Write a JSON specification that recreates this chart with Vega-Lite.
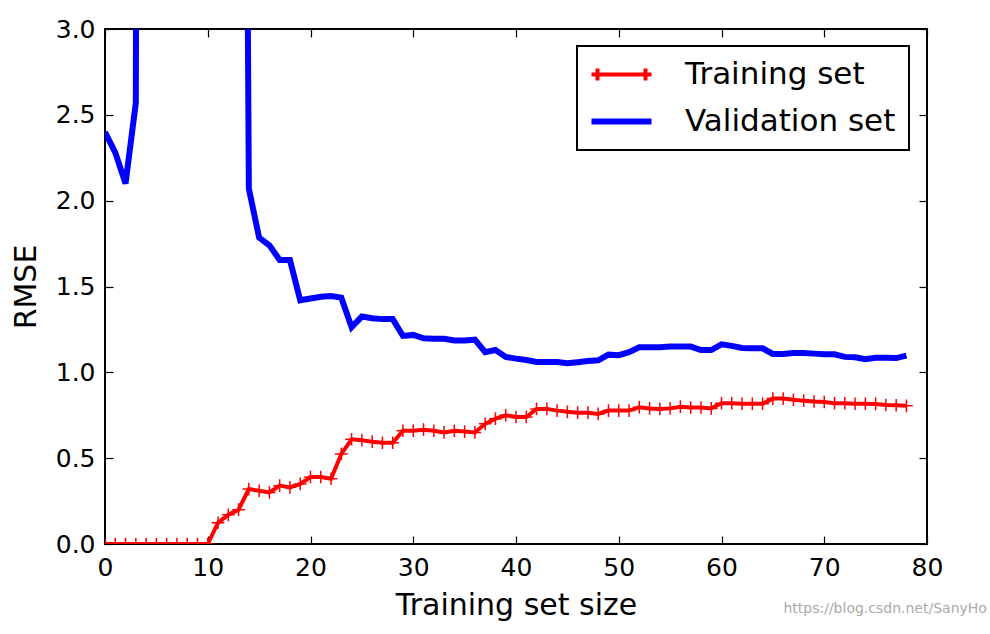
{
  "$schema": "https://vega.github.io/schema/vega-lite/v6.json",
  "autosize": {"type": "none"},
  "width": 822,
  "height": 515,
  "padding": {"left": 105, "top": 29, "right": 63, "bottom": 90},
  "background": "white",
  "title": {"text": "https://blog.csdn.net/SanyHo", "orient": "bottom", "anchor": "end", "fontSize": 14, "fontWeight": "normal", "color": "#aaaaaa", "font": "DejaVu Sans", "dx": 44, "dy": -22},
  "config": {
    "view": {"stroke": "black", "strokeWidth": 2},
    "axis": {"grid": false, "domain": false, "labelFlush": false, "tickSize": -8, "tickColor": "black", "tickWidth": 1.2, "labelFont": "DejaVu Sans", "labelFontSize": 25, "labelColor": "black", "titleFont": "DejaVu Sans", "titleFontSize": 30, "titleFontWeight": "normal", "titleColor": "black"},
    "legend": {"orient": "none", "legendX": 472, "legendY": 17}
  },
  "data": {"values": [
    {"x": 0, "rmse": 0, "series": "Training set"},
    {"x": 1, "rmse": 0, "series": "Training set"},
    {"x": 2, "rmse": 0, "series": "Training set"},
    {"x": 3, "rmse": 0, "series": "Training set"},
    {"x": 4, "rmse": 0, "series": "Training set"},
    {"x": 5, "rmse": 0, "series": "Training set"},
    {"x": 6, "rmse": 0, "series": "Training set"},
    {"x": 7, "rmse": 0, "series": "Training set"},
    {"x": 8, "rmse": 0, "series": "Training set"},
    {"x": 9, "rmse": 0, "series": "Training set"},
    {"x": 10, "rmse": 0, "series": "Training set"},
    {"x": 11, "rmse": 0.124, "series": "Training set"},
    {"x": 12, "rmse": 0.17, "series": "Training set"},
    {"x": 13, "rmse": 0.2, "series": "Training set"},
    {"x": 14, "rmse": 0.32, "series": "Training set"},
    {"x": 15, "rmse": 0.31, "series": "Training set"},
    {"x": 16, "rmse": 0.3, "series": "Training set"},
    {"x": 17, "rmse": 0.34, "series": "Training set"},
    {"x": 18, "rmse": 0.33, "series": "Training set"},
    {"x": 19, "rmse": 0.35, "series": "Training set"},
    {"x": 20, "rmse": 0.39, "series": "Training set"},
    {"x": 21, "rmse": 0.39, "series": "Training set"},
    {"x": 22, "rmse": 0.38, "series": "Training set"},
    {"x": 23, "rmse": 0.525, "series": "Training set"},
    {"x": 24, "rmse": 0.61, "series": "Training set"},
    {"x": 25, "rmse": 0.605, "series": "Training set"},
    {"x": 26, "rmse": 0.596, "series": "Training set"},
    {"x": 27, "rmse": 0.59, "series": "Training set"},
    {"x": 28, "rmse": 0.59, "series": "Training set"},
    {"x": 29, "rmse": 0.66, "series": "Training set"},
    {"x": 30, "rmse": 0.66, "series": "Training set"},
    {"x": 31, "rmse": 0.666, "series": "Training set"},
    {"x": 32, "rmse": 0.66, "series": "Training set"},
    {"x": 33, "rmse": 0.65, "series": "Training set"},
    {"x": 34, "rmse": 0.66, "series": "Training set"},
    {"x": 35, "rmse": 0.655, "series": "Training set"},
    {"x": 36, "rmse": 0.65, "series": "Training set"},
    {"x": 37, "rmse": 0.7, "series": "Training set"},
    {"x": 38, "rmse": 0.73, "series": "Training set"},
    {"x": 39, "rmse": 0.75, "series": "Training set"},
    {"x": 40, "rmse": 0.74, "series": "Training set"},
    {"x": 41, "rmse": 0.74, "series": "Training set"},
    {"x": 42, "rmse": 0.787, "series": "Training set"},
    {"x": 43, "rmse": 0.787, "series": "Training set"},
    {"x": 44, "rmse": 0.777, "series": "Training set"},
    {"x": 45, "rmse": 0.77, "series": "Training set"},
    {"x": 46, "rmse": 0.765, "series": "Training set"},
    {"x": 47, "rmse": 0.765, "series": "Training set"},
    {"x": 48, "rmse": 0.758, "series": "Training set"},
    {"x": 49, "rmse": 0.777, "series": "Training set"},
    {"x": 50, "rmse": 0.777, "series": "Training set"},
    {"x": 51, "rmse": 0.777, "series": "Training set"},
    {"x": 52, "rmse": 0.797, "series": "Training set"},
    {"x": 53, "rmse": 0.79, "series": "Training set"},
    {"x": 54, "rmse": 0.787, "series": "Training set"},
    {"x": 55, "rmse": 0.79, "series": "Training set"},
    {"x": 56, "rmse": 0.8, "series": "Training set"},
    {"x": 57, "rmse": 0.795, "series": "Training set"},
    {"x": 58, "rmse": 0.795, "series": "Training set"},
    {"x": 59, "rmse": 0.79, "series": "Training set"},
    {"x": 60, "rmse": 0.82, "series": "Training set"},
    {"x": 61, "rmse": 0.82, "series": "Training set"},
    {"x": 62, "rmse": 0.817, "series": "Training set"},
    {"x": 63, "rmse": 0.817, "series": "Training set"},
    {"x": 64, "rmse": 0.817, "series": "Training set"},
    {"x": 65, "rmse": 0.847, "series": "Training set"},
    {"x": 66, "rmse": 0.847, "series": "Training set"},
    {"x": 67, "rmse": 0.84, "series": "Training set"},
    {"x": 68, "rmse": 0.835, "series": "Training set"},
    {"x": 69, "rmse": 0.83, "series": "Training set"},
    {"x": 70, "rmse": 0.827, "series": "Training set"},
    {"x": 71, "rmse": 0.82, "series": "Training set"},
    {"x": 72, "rmse": 0.82, "series": "Training set"},
    {"x": 73, "rmse": 0.817, "series": "Training set"},
    {"x": 74, "rmse": 0.817, "series": "Training set"},
    {"x": 75, "rmse": 0.816, "series": "Training set"},
    {"x": 76, "rmse": 0.81, "series": "Training set"},
    {"x": 77, "rmse": 0.808, "series": "Training set"},
    {"x": 78, "rmse": 0.805, "series": "Training set"},
    {"x": 0, "rmse": 2.4, "series": "Validation set"},
    {"x": 1, "rmse": 2.28, "series": "Validation set"},
    {"x": 2, "rmse": 2.1, "series": "Validation set"},
    {"x": 3, "rmse": 2.57, "series": "Validation set"},
    {"x": 4, "rmse": 30, "series": "Validation set"},
    {"x": 5, "rmse": 12, "series": "Validation set"},
    {"x": 6, "rmse": 8, "series": "Validation set"},
    {"x": 7, "rmse": 25, "series": "Validation set"},
    {"x": 8, "rmse": 40, "series": "Validation set"},
    {"x": 9, "rmse": 18, "series": "Validation set"},
    {"x": 10, "rmse": 9, "series": "Validation set"},
    {"x": 11, "rmse": 14, "series": "Validation set"},
    {"x": 12, "rmse": 20, "series": "Validation set"},
    {"x": 13, "rmse": 12, "series": "Validation set"},
    {"x": 14, "rmse": 2.07, "series": "Validation set"},
    {"x": 15, "rmse": 1.785, "series": "Validation set"},
    {"x": 16, "rmse": 1.74, "series": "Validation set"},
    {"x": 17, "rmse": 1.655, "series": "Validation set"},
    {"x": 18, "rmse": 1.655, "series": "Validation set"},
    {"x": 19, "rmse": 1.42, "series": "Validation set"},
    {"x": 20, "rmse": 1.43, "series": "Validation set"},
    {"x": 21, "rmse": 1.44, "series": "Validation set"},
    {"x": 22, "rmse": 1.445, "series": "Validation set"},
    {"x": 23, "rmse": 1.435, "series": "Validation set"},
    {"x": 24, "rmse": 1.263, "series": "Validation set"},
    {"x": 25, "rmse": 1.325, "series": "Validation set"},
    {"x": 26, "rmse": 1.315, "series": "Validation set"},
    {"x": 27, "rmse": 1.31, "series": "Validation set"},
    {"x": 28, "rmse": 1.31, "series": "Validation set"},
    {"x": 29, "rmse": 1.212, "series": "Validation set"},
    {"x": 30, "rmse": 1.218, "series": "Validation set"},
    {"x": 31, "rmse": 1.198, "series": "Validation set"},
    {"x": 32, "rmse": 1.195, "series": "Validation set"},
    {"x": 33, "rmse": 1.195, "series": "Validation set"},
    {"x": 34, "rmse": 1.185, "series": "Validation set"},
    {"x": 35, "rmse": 1.185, "series": "Validation set"},
    {"x": 36, "rmse": 1.19, "series": "Validation set"},
    {"x": 37, "rmse": 1.117, "series": "Validation set"},
    {"x": 38, "rmse": 1.13, "series": "Validation set"},
    {"x": 39, "rmse": 1.09, "series": "Validation set"},
    {"x": 40, "rmse": 1.08, "series": "Validation set"},
    {"x": 41, "rmse": 1.072, "series": "Validation set"},
    {"x": 42, "rmse": 1.06, "series": "Validation set"},
    {"x": 43, "rmse": 1.06, "series": "Validation set"},
    {"x": 44, "rmse": 1.06, "series": "Validation set"},
    {"x": 45, "rmse": 1.053, "series": "Validation set"},
    {"x": 46, "rmse": 1.059, "series": "Validation set"},
    {"x": 47, "rmse": 1.066, "series": "Validation set"},
    {"x": 48, "rmse": 1.07, "series": "Validation set"},
    {"x": 49, "rmse": 1.103, "series": "Validation set"},
    {"x": 50, "rmse": 1.1, "series": "Validation set"},
    {"x": 51, "rmse": 1.117, "series": "Validation set"},
    {"x": 52, "rmse": 1.146, "series": "Validation set"},
    {"x": 53, "rmse": 1.146, "series": "Validation set"},
    {"x": 54, "rmse": 1.146, "series": "Validation set"},
    {"x": 55, "rmse": 1.15, "series": "Validation set"},
    {"x": 56, "rmse": 1.15, "series": "Validation set"},
    {"x": 57, "rmse": 1.15, "series": "Validation set"},
    {"x": 58, "rmse": 1.13, "series": "Validation set"},
    {"x": 59, "rmse": 1.13, "series": "Validation set"},
    {"x": 60, "rmse": 1.163, "series": "Validation set"},
    {"x": 61, "rmse": 1.154, "series": "Validation set"},
    {"x": 62, "rmse": 1.142, "series": "Validation set"},
    {"x": 63, "rmse": 1.14, "series": "Validation set"},
    {"x": 64, "rmse": 1.14, "series": "Validation set"},
    {"x": 65, "rmse": 1.107, "series": "Validation set"},
    {"x": 66, "rmse": 1.107, "series": "Validation set"},
    {"x": 67, "rmse": 1.113, "series": "Validation set"},
    {"x": 68, "rmse": 1.113, "series": "Validation set"},
    {"x": 69, "rmse": 1.109, "series": "Validation set"},
    {"x": 70, "rmse": 1.105, "series": "Validation set"},
    {"x": 71, "rmse": 1.105, "series": "Validation set"},
    {"x": 72, "rmse": 1.09, "series": "Validation set"},
    {"x": 73, "rmse": 1.088, "series": "Validation set"},
    {"x": 74, "rmse": 1.076, "series": "Validation set"},
    {"x": 75, "rmse": 1.085, "series": "Validation set"},
    {"x": 76, "rmse": 1.085, "series": "Validation set"},
    {"x": 77, "rmse": 1.083, "series": "Validation set"},
    {"x": 78, "rmse": 1.097, "series": "Validation set"}
  ]},
  "resolve": {"axis": {"x": "independent", "y": "independent"}},
  "layer": [
    {
      "transform": [{"filter": "datum.series === 'Training set'"}],
      "mark": {"type": "line", "strokeWidth": 4, "clip": true},
      "encoding": {
        "x": {"field": "x", "type": "quantitative", "scale": {"domain": [0, 80], "nice": false, "zero": false},
              "axis": {"orient": "bottom", "values": [0, 10, 20, 30, 40, 50, 60, 70, 80], "labelPadding": 19, "title": "Training set size", "titlePadding": 10}},
        "y": {"field": "rmse", "type": "quantitative", "scale": {"domain": [0, 3], "nice": false, "zero": false},
              "axis": {"orient": "left", "values": [0, 0.5, 1, 1.5, 2, 2.5, 3], "format": ".1f", "labelPadding": 18, "title": "RMSE", "titlePadding": 14}},
        "color": {"field": "series", "type": "nominal",
                  "scale": {"domain": ["Training set", "Validation set"], "range": ["#ff0000", "#0000ff"]},
                  "legend": {"title": null, "labelFontSize": 31, "labelFont": "DejaVu Sans", "labelColor": "black", "labelLimit": 500,
                             "strokeColor": "black", "fillColor": "white", "padding": 13, "symbolSize": 3600, "symbolType": "stroke",
                             "symbolStrokeWidth": 5, "symbolOffset": 16, "labelOffset": 48, "rowPadding": 15,
                             "encode": {
                               "symbols": {"update": {
                                 "shape": {"signal": "datum.value === 'Training set' ? 'M-1,0H1M-0.8,-0.2V0.2M0.8,-0.2V0.2' : 'stroke'"},
                                 "strokeWidth": {"signal": "datum.value === 'Training set' ? 4 : 6"},
                                 "fill": {"value": "transparent"}
                               }},
                               "legend": {"update": {"strokeWidth": {"value": 2}}}
                             }}}
      }
    },
    {
      "transform": [{"filter": "datum.series === 'Training set'"}],
      "mark": {"type": "point", "shape": "M-1,0H1M0,-1V1", "filled": false, "size": 160, "strokeWidth": 1.5, "color": "#ff0000", "opacity": 1, "clip": true},
      "encoding": {
        "x": {"field": "x", "type": "quantitative", "axis": null},
        "y": {"field": "rmse", "type": "quantitative", "axis": null}
      }
    },
    {
      "transform": [{"filter": "datum.series === 'Validation set'"}],
      "mark": {"type": "line", "strokeWidth": 6, "clip": true},
      "encoding": {
        "x": {"field": "x", "type": "quantitative",
              "axis": {"orient": "top", "values": [0, 10, 20, 30, 40, 50, 60, 70, 80], "labels": false, "title": null}},
        "y": {"field": "rmse", "type": "quantitative",
              "axis": {"orient": "right", "values": [0, 0.5, 1, 1.5, 2, 2.5, 3], "labels": false, "title": null}},
        "color": {"field": "series", "type": "nominal"}
      }
    }
  ]
}
